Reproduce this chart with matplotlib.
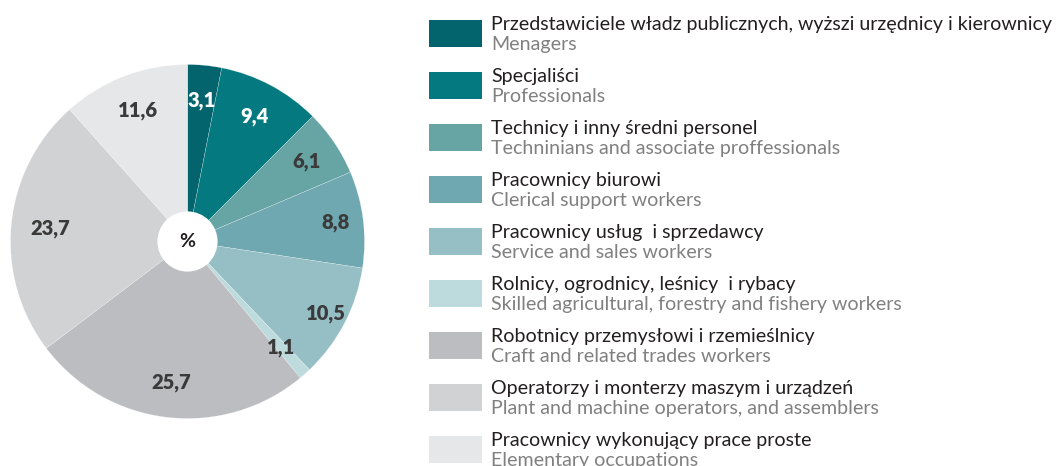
import numpy as np
import matplotlib.pyplot as plt
from matplotlib.patches import Rectangle, Circle

# udział pracujących wg grup zawodów, %
values = [3.1, 9.4, 6.1, 8.8, 10.5, 1.1, 25.7, 23.7, 11.6]
labels_pl = [
    "Przedstawiciele władz publicznych, wyższi urzędnicy i kierownicy",
    "Specjaliści",
    "Technicy i inny średni personel",
    "Pracownicy biurowi",
    "Pracownicy usług  i sprzedawcy",
    "Rolnicy, ogrodnicy, leśnicy  i rybacy",
    "Robotnicy przemysłowi i rzemieślnicy",
    "Operatorzy i monterzy maszym i urządzeń",
    "Pracownicy wykonujący prace proste",
]
labels_en = [
    "Menagers",
    "Professionals",
    "Techninians and associate proffessionals",
    "Clerical support workers",
    "Service and sales workers",
    "Skilled agricultural, forestry and fishery workers",
    "Craft and related trades workers",
    "Plant and machine operators, and assemblers",
    "Elementary occupations",
]
colors = ["#04646e", "#047a80", "#67a5a5", "#6fa8b0", "#96bfc5",
          "#bddbdd", "#bcbdc1", "#d1d2d4", "#e6e7e8"]
label_colors = ["white", "white"] + ["#3a3a3a"] * 7
label_r = [0.80, 0.80, 0.81, 0.845, 0.88, 0.80, 0.80, 0.78, 0.79]

W, H = 1059, 466
fig = plt.figure(figsize=(W / 100, H / 100), dpi=100)

font_txt = ["Lato", "DejaVu Sans"]

# pie, centre (187.5, 241.5) px, radius 177 px
cx, cy, R = 187.5, 241.5, 177
ax = fig.add_axes([(cx - R) / W, (H - cy - R) / H, 2 * R / W, 2 * R / H])
wedges, _ = ax.pie(values, colors=colors, startangle=90, counterclock=False,
                   radius=1, wedgeprops=dict(edgecolor="white", linewidth=0.15))
ax.set_xlim(-1, 1)
ax.set_ylim(-1, 1)
ax.set_aspect("equal")
ax.axis("off")
ax.add_patch(Circle((0, 0), 0.17, facecolor="white", edgecolor="none", zorder=5))
ax.text(0, 0, "%", ha="center", va="center", fontsize=14, fontweight="bold",
        color="#231f20", family=font_txt, zorder=6)

cum = np.cumsum([0] + values)
for i, v in enumerate(values):
    mid = np.deg2rad(90 - (cum[i] + v / 2) * 3.6)
    r = label_r[i]
    ax.text(r * np.cos(mid), r * np.sin(mid), f"{v:.1f}".replace(".", ","),
            ha="center", va="center", fontsize=14.5, fontweight="heavy",
            color=label_colors[i], family=font_txt)

# legend drawn in pixel coordinates
lg = fig.add_axes([0, 0, 1, 1])
lg.set_xlim(0, W)
lg.set_ylim(H, 0)
lg.axis("off")
lg.patch.set_alpha(0)
for i in range(len(values)):
    top = 20 + i * 52
    lg.add_patch(Rectangle((429, top), 53, 27, facecolor=colors[i], edgecolor="none"))
    lg.text(491, top + 10, labels_pl[i], ha="left", va="baseline", fontsize=14.1,
            color="#231f20", family=font_txt)
    lg.text(491, top + 30, labels_en[i], ha="left", va="baseline", fontsize=14.1,
            color="#808080", family=font_txt)

fig.savefig("out.png", dpi=100)
